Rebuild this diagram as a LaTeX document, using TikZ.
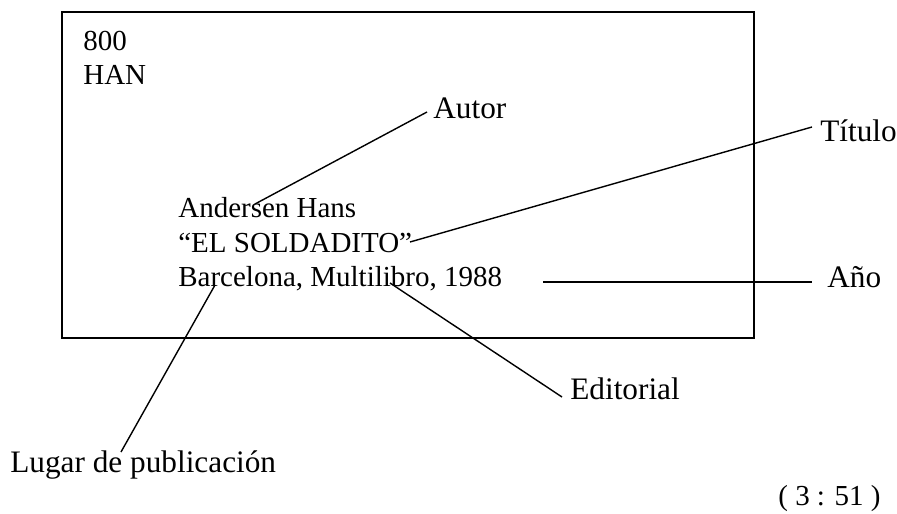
\documentclass[tikz,border=0pt]{standalone}
\usepackage{fontspec}
\setmainfont{Liberation Serif}
\usepackage{tikz}
\usetikzlibrary{positioning}
\tikzset{lbl/.style = {font=\fontsize{16.5}{19}\selectfont, inner sep = 0, anchor = base west}}
\tikzset{tag/.style = {lbl, font=\fontsize{17.8}{21}\selectfont}}
\tikzset{lead/.style = {line width = 0.8pt}}

\begin{document}
\begin{tikzpicture}[x=0.02cm, y=-0.02cm]
    \useasboundingbox (0, 0) rectangle (897, 514);

    \draw [line width = 0.9pt] (62, 12) rectangle (754, 338);

    \node [lbl] (num) at (83, 50) {800};
    \node [lbl] (han) at (83, 84) {HAN};
    \node [lbl] (autor) at (178, 217) {Andersen Hans};
    \node [lbl] (titulo) at (178, 252) {“EL SOLDADITO”};
    \node [lbl] (pie) at (178, 286) {Barcelona, Multilibro, 1988};

    \node [tag] (lautor) at (433, 118) {Autor};
    \node [tag] (ltitulo) at (820, 141) {Título};
    \node [tag] (lano) at (827, 287) {Año};
    \node [tag] (leditorial) at (570, 399) {Editorial};
    \node [tag] (llugar) at (10, 472) {Lugar de publicación};
    \node [lbl] (ref) at (778, 505) {( 3 : 51 )};

    \coordinate (a1) at (255, 204);
    \coordinate (a2) at (427, 112);
    \coordinate (t1) at (410, 242);
    \coordinate (t2) at (812, 127);
    \coordinate (y1) at (543, 282);
    \coordinate (y2) at (812, 282);
    \coordinate (e1) at (390, 283);
    \coordinate (e2) at (562, 397);
    \coordinate (l1) at (215, 285);
    \coordinate (l2) at (121, 452);

    \draw [lead] (a1) -- (a2);
    \draw [lead] (t1) -- (t2);
    \draw [lead] (y1) -- (y2);
    \draw [lead] (e1) -- (e2);
    \draw [lead] (l1) -- (l2);
  \end{tikzpicture}
\end{document}
